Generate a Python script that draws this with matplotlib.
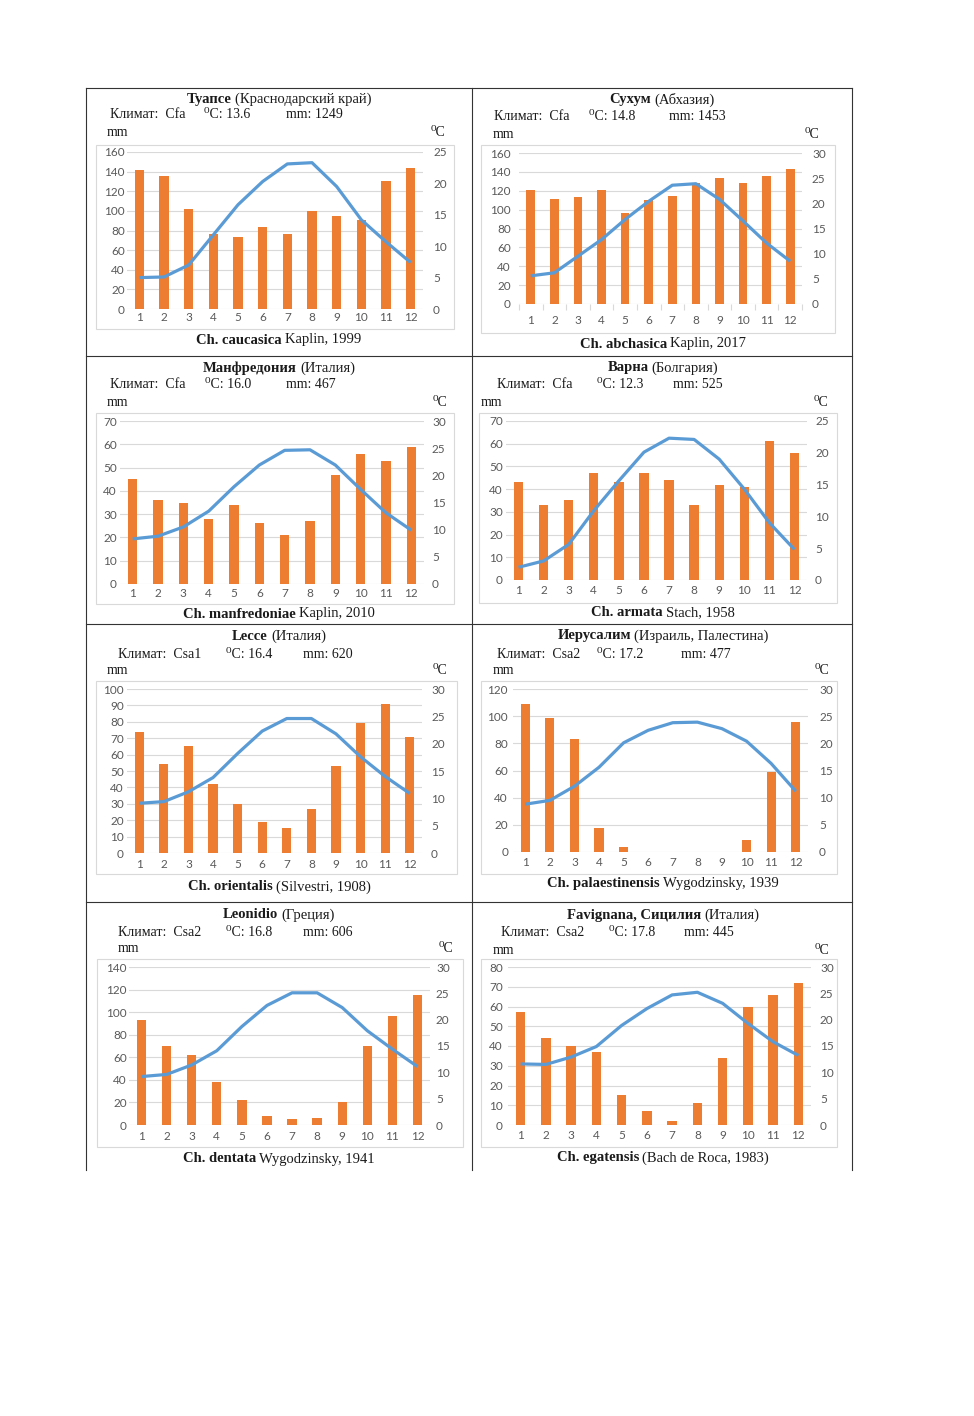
import matplotlib
matplotlib.use("Agg")
import matplotlib.pyplot as plt
from matplotlib.lines import Line2D
from matplotlib.patches import Rectangle
import numpy as np

W, H = 974, 1416

months = np.arange(1, 13)

place_bold = ["Туапсе", "Сухум", "Манфредония", "Варна",
              "Lecce", "Иерусалим", "Leonidio", "Favignana, Сицилия"]
place_rest = ["(Краснодарский край)", "(Абхазия)", "(Италия)", "(Болгария)",
              "(Италия)", "(Израиль, Палестина)", "(Греция)", "(Италия)"]
climate = ["Cfa", "Cfa", "Cfa", "Cfa", "Csa1", "Csa2", "Csa2", "Csa2"]
mean_temp = ["13.6", "14.8", "16.0", "12.3", "16.4", "17.2", "16.8", "17.8"]
annual_mm = ["1249", "1453", "467", "525", "620", "477", "606", "445"]
species = ["Ch. caucasica", "Ch. abchasica", "Ch. manfredoniae", "Ch. armata",
           "Ch. orientalis", "Ch. palaestinensis", "Ch. dentata", "Ch. egatensis"]
authority = ["Kaplin, 1999", "Kaplin, 2017", "Kaplin, 2010", "Stach, 1958",
             "(Silvestri, 1908)", "Wygodzinsky, 1939", "Wygodzinsky, 1941",
             "(Bach de Roca, 1983)"]

precip = [
    [142, 136, 102, 76, 73, 84, 76, 100, 95, 91, 130, 144],
    [121, 111, 113, 121, 96, 110, 114, 128, 133, 128, 136, 143],
    [45, 36, 35, 28, 34, 26, 21, 27, 47, 56, 53, 59],
    [43, 33, 35, 47, 43, 47, 44, 33, 42, 41, 61, 56],
    [74, 54, 65, 42, 30, 19, 15, 27, 53, 79, 91, 71],
    [109, 99, 83, 18, 4, 0, 0, 0, 0, 9, 59, 96],
    [93, 70, 62, 38, 22, 8, 5, 6, 20, 70, 97, 115],
    [57, 44, 40, 37, 15, 7, 2, 11, 34, 60, 66, 72],
]
temp = [
    [5.0, 5.1, 7.0, 11.8, 16.6, 20.3, 23.1, 23.3, 19.5, 14.2, 10.7, 7.4],
    [5.6, 6.2, 9.5, 12.8, 16.8, 20.4, 23.6, 23.9, 20.8, 16.5, 12.1, 8.5],
    [8.3, 8.8, 10.5, 13.4, 17.9, 21.9, 24.6, 24.7, 21.9, 17.4, 13.1, 9.9],
    [2.0, 3.0, 5.6, 10.9, 15.6, 20.1, 22.3, 22.1, 19.0, 14.3, 9.0, 4.8],
    [9.1, 9.4, 11.2, 13.8, 18.2, 22.3, 24.6, 24.6, 21.8, 17.6, 14.0, 10.9],
    [8.8, 9.5, 12.1, 15.6, 20.1, 22.4, 23.8, 23.9, 22.7, 20.4, 16.3, 11.2],
    [9.2, 9.6, 11.4, 14.1, 18.7, 22.7, 25.1, 25.1, 22.3, 17.9, 14.4, 11.1],
    [11.6, 11.5, 12.9, 14.9, 18.9, 22.1, 24.7, 25.2, 23.1, 19.3, 15.8, 13.2],
]
mm_max = [160, 160, 70, 70, 100, 120, 140, 80]
mm_step = [20, 20, 10, 10, 10, 20, 20, 10]
t_max = [25, 30, 30, 25, 30, 30, 30, 30]

# pixel layout of each panel: plot area, chart box, label anchors
layout = [
    dict(plot=(127, 423, 152, 309), box=(96, 454, 145, 329), llab=125, rlab=433, xlab=318,
         title=(279, 99), info_y=115, info_x=(110, 204, 286), mm=(107, 132), deg=(431, 133),
         cap=(279, 340), ticks=False),
    dict(plot=(519, 802, 153, 304), box=(481, 835, 145, 333), llab=511, rlab=812, xlab=321,
         title=(662, 100), info_y=117, info_x=(494, 589, 669), mm=(493, 135), deg=(805, 135),
         cap=(663, 344), ticks=True),
    dict(plot=(120, 424, 421, 584), box=(96, 454, 413, 604), llab=117, rlab=432, xlab=594,
         title=(279, 368), info_y=385, info_x=(110, 205, 286), mm=(107, 403), deg=(433, 403),
         cap=(279, 614), ticks=False),
    dict(plot=(506, 807, 421, 580), box=(479, 837, 413, 603), llab=503, rlab=815, xlab=591,
         title=(663, 368), info_y=385, info_x=(497, 597, 673), mm=(481, 403), deg=(814, 403),
         cap=(663, 613), ticks=False),
    dict(plot=(127, 422, 689, 853), box=(96, 457, 681, 874), llab=124, rlab=431, xlab=865,
         title=(279, 636), info_y=654, info_x=(118, 226, 303), mm=(107, 671), deg=(433, 671),
         cap=(279, 887), ticks=False),
    dict(plot=(513, 808, 689, 852), box=(481, 837, 681, 874), llab=508, rlab=819, xlab=863,
         title=(663, 636), info_y=654, info_x=(497, 597, 681), mm=(493, 671), deg=(815, 671),
         cap=(663, 884), ticks=False),
    dict(plot=(129, 430, 967, 1125), box=(97, 463, 959, 1147), llab=127, rlab=436, xlab=1137,
         title=(279, 915), info_y=932, info_x=(118, 226, 303), mm=(118, 949), deg=(439, 949),
         cap=(279, 1159), ticks=False),
    dict(plot=(508, 811, 967, 1125), box=(481, 837, 959, 1147), llab=503, rlab=820, xlab=1136,
         title=(663, 915), info_y=933, info_x=(501, 609, 684), mm=(493, 950), deg=(815, 950),
         cap=(663, 1158), ticks=False),
]

ORANGE = "#ED7D31"
BLUE = "#5B9BD5"
GRID = "#D9D9D9"
TICK = "#595959"
SERIF = ["Liberation Serif", "DejaVu Serif"]
SANS = ["Lato", "DejaVu Sans"]
TSIZE = 8.5


def fx(x):
    return x / W


def fy(y):
    return 1 - y / H


def pt(px):
    return px * 72 / 100


fig = plt.figure(figsize=(W / 100, H / 100), dpi=100)
renderer = fig.canvas.get_renderer()


def two_part(x, y, bold, rest, size):
    t1 = fig.text(0, 0, bold, fontsize=size, fontweight="bold", family=SERIF,
                  ha="left", va="center", color="#1a1a1a")
    t2 = fig.text(0, 0, rest, fontsize=size, family=SERIF,
                  ha="left", va="center", color="#1a1a1a")
    w1 = t1.get_window_extent(renderer).width
    w2 = t2.get_window_extent(renderer).width
    gap = size * 0.3
    x0 = x - (w1 + gap + w2) / 2
    t1.set_position((fx(x0), fy(y)))
    t2.set_position((fx(x0 + w1 + gap), fy(y)))


for i, L in enumerate(layout):
    l, r, t, b = L["plot"]
    ax = fig.add_axes([fx(l), fy(b), (r - l) / W, (b - t) / H])
    ax.bar(months, precip[i], width=0.37, color=ORANGE, zorder=2)
    ax.set_xlim(0.5, 12.5)
    ax.set_ylim(0, mm_max[i])
    ax.set_yticks(np.arange(0, mm_max[i] + 1, mm_step[i]))
    ax.set_xticks(months)
    ax.grid(axis="y", color=GRID, linewidth=0.8, zorder=0)
    ax.set_axisbelow(True)
    for s in ax.spines.values():
        s.set_visible(False)
    ax.tick_params(axis="y", length=0, pad=pt(l - L["llab"]), labelsize=TSIZE, labelcolor=TICK)
    xpad = L["xlab"] - b - 6
    if L["ticks"]:
        ax.set_xticks(np.arange(0.5, 13, 1), minor=True)
        ax.tick_params(axis="x", which="minor", length=pt(6), width=0.8, color=GRID)
        ax.tick_params(axis="x", which="major", length=0, pad=pt(xpad), labelsize=TSIZE, labelcolor=TICK)
    else:
        ax.tick_params(axis="x", length=0, pad=pt(xpad), labelsize=TSIZE, labelcolor=TICK)
    for lab in ax.get_xticklabels() + ax.get_yticklabels():
        lab.set_family(SANS)

    ax2 = ax.twinx()
    ax2.plot(months, temp[i], color=BLUE, linewidth=2.3, solid_capstyle="butt", zorder=3)
    ax2.set_ylim(0, t_max[i])
    ax2.set_yticks(np.arange(0, t_max[i] + 1, 5))
    for s in ax2.spines.values():
        s.set_visible(False)
    ax2.tick_params(axis="y", length=0, pad=pt(L["rlab"] - r), labelsize=TSIZE, labelcolor=TICK)
    for lab in ax2.get_yticklabels():
        lab.set_family(SANS)

    bl, br, bt, bb = L["box"]
    fig.add_artist(Rectangle((fx(bl), fy(bb)), (br - bl) / W, (bb - bt) / H,
                             transform=fig.transFigure, facecolor="none",
                             edgecolor=GRID, linewidth=0.8))

    two_part(L["title"][0], L["title"][1], place_bold[i], place_rest[i], 10.5)
    iy = L["info_y"]
    x1, x2, x3 = L["info_x"]
    fig.text(fx(x1), fy(iy), "Климат:  " + climate[i], fontsize=10, family=SERIF,
             ha="left", va="center", color="#1a1a1a")
    fig.text(fx(x2), fy(iy), "\u2070C: " + mean_temp[i], fontsize=10, family=SERIF,
             ha="left", va="center", color="#1a1a1a")
    fig.text(fx(x3), fy(iy), "mm: " + annual_mm[i], fontsize=10, family=SERIF,
             ha="left", va="center", color="#1a1a1a")
    fig.text(fx(L["mm"][0]), fy(L["mm"][1]), "mm", fontsize=10, family=SERIF,
             ha="left", va="center", color="#1a1a1a")
    fig.text(fx(L["deg"][0]), fy(L["deg"][1]), "\u2070C", fontsize=10, family=SERIF,
             ha="left", va="center", color="#1a1a1a")
    two_part(L["cap"][0], L["cap"][1], species[i], authority[i], 10.5)

# table lines
for x in (86, 472, 852):
    fig.add_artist(Line2D([fx(x), fx(x)], [fy(88), fy(1170)], transform=fig.transFigure,
                          color="#333333", linewidth=0.8))
for y in (88, 356, 624, 902):
    fig.add_artist(Line2D([fx(86), fx(852)], [fy(y), fy(y)], transform=fig.transFigure,
                          color="#333333", linewidth=0.8))

fig.savefig("out.png", dpi=100)
